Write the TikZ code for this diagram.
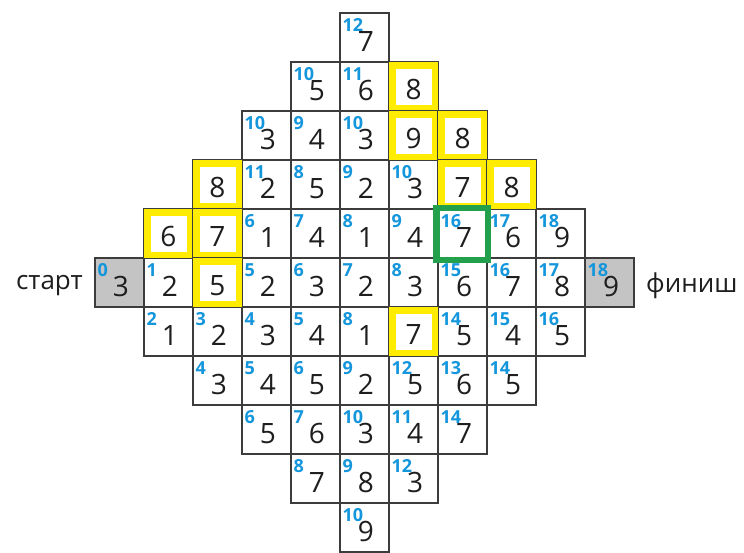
\documentclass[tikz,border=0pt]{standalone}
\usepackage{fontspec}
\setmainfont{Open Sans}
\definecolor{cellline}{RGB}{60,60,60}
\definecolor{hlyellow}{RGB}{255,236,0}
\definecolor{hlgreen}{RGB}{35,160,75}
\definecolor{labelblue}{RGB}{20,150,220}
\definecolor{startgray}{RGB}{196,196,196}
\definecolor{digitcol}{RGB}{30,30,30}
\begin{document}
\begin{tikzpicture}[x=1pt,y=-1pt,
 cellbox/.style={draw=cellline,line width=1.6pt,minimum size=49pt,inner sep=0pt,outer sep=0pt},
 graycell/.style={cellbox,fill=startgray},
 digit/.style={font=\fontsize{28}{28}\selectfont,text=digitcol,inner sep=0pt},
 stepnum/.style={font=\fontsize{18}{18}\selectfont\bfseries,text=labelblue,inner sep=0pt,anchor=north west},
 yellowframe/.style={draw=hlyellow,line width=6.5pt},
 greenframe/.style={draw=hlgreen,line width=6.5pt},
 sidetext/.style={font=\fontsize{26}{26}\selectfont,text=digitcol,inner sep=0pt}]
\fill[white] (0,0) rectangle (744,552);
\useasboundingbox (0,0) rectangle (744,552);
% normal cells: row/col/digit
\foreach \r/\c/\d in {
 0/5/7,
 1/4/5, 1/5/6,
 2/3/3, 2/4/4, 2/5/3,
 3/3/2, 3/4/5, 3/5/2, 3/6/3,
 4/3/1, 4/4/4, 4/5/1, 4/6/4, 4/7/7, 4/8/6, 4/9/9,
 5/1/2, 5/3/2, 5/4/3, 5/5/2, 5/6/3, 5/7/6, 5/8/7, 5/9/8,
 6/1/1, 6/2/2, 6/3/3, 6/4/4, 6/5/1, 6/7/5, 6/8/4, 6/9/5,
 7/2/3, 7/3/4, 7/4/5, 7/5/2, 7/6/5, 7/7/6, 7/8/5,
 8/3/5, 8/4/6, 8/5/3, 8/6/4, 8/7/7,
 9/4/7, 9/5/8, 9/6/3,
 10/5/9}{
  \node[cellbox] (cell-\r-\c) at ({119.5+49*\c},{37.5+49*\r}) {};
  \node[digit] (d-\r-\c) at ([xshift=1.5pt,yshift=-4pt]cell-\r-\c.center) {\d};
}
% start / finish cells
\foreach \r/\c/\d in {5/0/3, 5/10/9}{
  \node[graycell] (cell-\r-\c) at ({119.5+49*\c},{37.5+49*\r}) {};
  \node[digit] (d-\r-\c) at ([xshift=1.5pt,yshift=-4pt]cell-\r-\c.center) {\d};
}
% yellow cells
\foreach \r/\c/\d in {1/6/8, 2/6/9, 2/7/8, 3/2/8, 3/7/7, 3/8/8, 4/1/6, 4/2/7, 5/2/5, 6/6/7}{
  \node[cellbox] (cell-\r-\c) at ({119.5+49*\c},{37.5+49*\r}) {};
  \draw[yellowframe] ([shift={(3.25pt,-3.25pt)}]cell-\r-\c.north west) rectangle ([shift={(-3.25pt,3.25pt)}]cell-\r-\c.south east);
  \node[digit] (d-\r-\c) at ([yshift=-3pt]cell-\r-\c.center) {\d};
}
% green frame
\draw[greenframe] ([shift={(-1.5pt,1pt)}]cell-4-7.north west) rectangle ([shift={(1pt,-2pt)}]cell-4-7.south east);
% step numbers
\foreach \r/\c/\n in {
 0/5/12,
 1/4/10, 1/5/11,
 2/3/10, 2/4/9, 2/5/10,
 3/3/11, 3/4/8, 3/5/9, 3/6/10,
 4/3/6, 4/4/7, 4/5/8, 4/6/9, 4/7/16, 4/8/17, 4/9/18,
 5/0/0, 5/1/1, 5/3/5, 5/4/6, 5/5/7, 5/6/8, 5/7/15, 5/8/16, 5/9/17, 5/10/18,
 6/1/2, 6/2/3, 6/3/4, 6/4/5, 6/5/8, 6/7/14, 6/8/15, 6/9/16,
 7/2/4, 7/3/5, 7/4/6, 7/5/9, 7/6/12, 7/7/13, 7/8/14,
 8/3/6, 8/4/7, 8/5/10, 8/6/11, 8/7/14,
 9/4/8, 9/5/9, 9/6/12,
 10/5/10}{
  \node[stepnum] (n-\r-\c) at ([xshift=2.5pt,yshift=-5pt]cell-\r-\c.north west) {\n};
}
\node[sidetext,anchor=east] (start) at ([xshift=-12pt,yshift=-3pt]cell-5-0.west) {старт};
\node[sidetext,anchor=west] (finish) at ([xshift=12pt,yshift=-3pt]cell-5-10.east) {финиш};
\end{tikzpicture}
\end{document}
